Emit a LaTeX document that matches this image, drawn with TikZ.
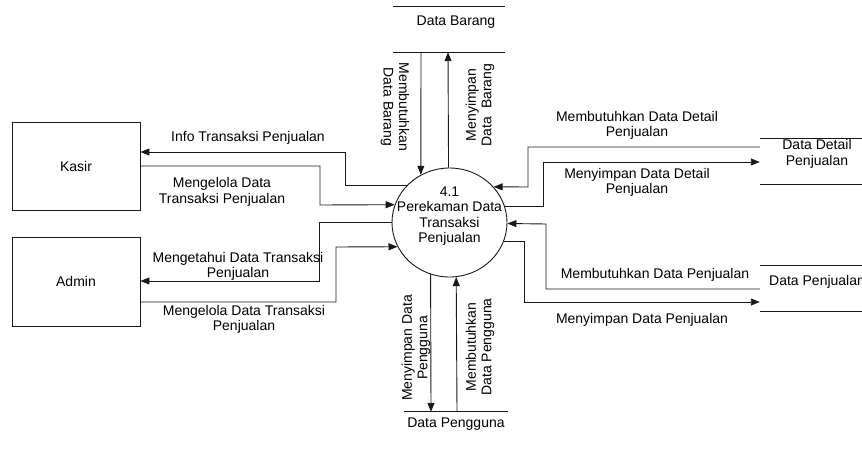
\documentclass[tikz,border=0pt]{standalone}
\usepackage{fontspec}
\setmainfont{Liberation Sans}
\usetikzlibrary{arrows.meta,shapes.geometric}
\begin{document}
\begin{tikzpicture}[x=1pt,y=-1pt,
  every node/.style={font=\fontsize{14}{15.5}\selectfont, text=black},
  flow/.style={draw=black!90, line width=0.9pt, -{Triangle[length=9pt,width=7pt]}},
  entity/.style={draw=black!90, line width=0.9pt, rectangle, minimum width=128pt, minimum height=88pt, inner sep=0pt},
  storebox/.style={rectangle, inner sep=0pt},
  storeline/.style={draw=black!90, line width=0.9pt},
  lbl/.style={align=center, inner sep=0pt}]
\useasboundingbox (0,0) rectangle (862,449);

% external entities
\node[entity] (kasir) at (76,166) {Kasir};
\node[entity, minimum height=89pt] (admin) at (76,281.5) {Admin};

% process
\node[draw=black!90, line width=0.9pt, ellipse, minimum width=115pt, minimum height=109pt, inner sep=0pt] (p) at (449.5,222.5) {};
\node[lbl] (ptext) at (449.5,216) {4.1\\Perekaman Data\\Transaksi\\Penjualan};

% data stores
\node[storebox, minimum width=112pt, minimum height=45pt] (db) at (449,29.5) {};
\draw[storeline] (db.north west) -- (db.north east);
\draw[storeline] (db.south west) -- (db.south east);
\node[lbl] (dbtext) at (456,22) {Data Barang};

\node[storebox, minimum width=112pt, minimum height=45pt] (ddp) at (816,161.5) {};
\draw[storeline] (ddp.north west) -- (ddp.north east);
\draw[storeline] (ddp.south west) -- (ddp.south east);
\node[lbl] (ddptext) at (817,154) {Data Detail\\Penjualan};

\node[storebox, minimum width=112pt, minimum height=45pt] (dp) at (816,288.5) {};
\draw[storeline] (dp.north west) -- (dp.north east);
\draw[storeline] (dp.south west) -- (dp.south east);
\node[lbl, anchor=west] (dptext) at (769,282) {Data Penjualan};

\node[storebox, minimum width=104pt, minimum height=30pt] (dpg) at (456,427) {};
\draw[storeline] (dpg.north west) -- (dpg.north east);
\node[lbl] (dpgtext) at (456,424) {Data Pengguna};

% flows with Kasir
\draw[flow] (p.139.5) -| (345,152) -- (kasir.east |- 0,152);
\draw[flow] (kasir.east) -| (320,205) -- (p.162.2);
\node[lbl] (l1) at (248,138) {Info Transaksi Penjualan};
\node[lbl] (l2) at (222,192) {Mengelola Data\\Transaksi Penjualan};

% flows with Admin
\draw[flow] (p.180.5) -| (319,281) -- (admin.east |- 0,281);
\draw[flow] (admin.east |- 0,302) -| (336,247) -- (p.205.5);
\node[lbl] (l3) at (238,266.5) {Mengetahui Data Transaksi\\Penjualan};
\node[lbl] (l4) at (244,319.5) {Mengelola Data Transaksi\\Penjualan};

% flows with Data Detail Penjualan
\draw[flow] (ddp.west |- 0,147) -| (528,187) -- (p.39.2);
\draw[flow] (p.16.8) -| (543,162) -- (ddp.west |- 0,162);
\node[lbl] (l5) at (637,125.5) {Membutuhkan Data Detail\\Penjualan};
\node[lbl] (l6) at (637,182.5) {Menyimpan Data Detail\\Penjualan};

% flows with Data Penjualan
\draw[flow] (dp.west |- 0,289) -| (546,224) -- (p.-1.5);
\draw[flow] (p.-19.96) -| (524,302) -- (dp.west |- 0,302);
\node[lbl] (l7) at (655,275) {Membutuhkan Data Penjualan};
\node[lbl] (l8) at (642,320) {Menyimpan Data Penjualan};

% flows with Data Barang
\draw[flow] (db.south -| 421,0) -- (p.121.1);
\draw[flow] (p.91.6) -- (db.south -| 448,0);
\node[lbl, rotate=-90] (l9) at (395,107) {Membutuhkan\\Data Barang};
\node[lbl, rotate=90] (l10) at (480,105) {Menyimpan\\Data\ \ Barang};

% flows with Data Pengguna
\draw[flow] (p.250.3) -- (dpg.north -| 431,0);
\draw[flow] (dpg.north -| 457,0) -- (p.277.9);
\node[lbl, rotate=90] (l11) at (416,348) {Menyimpan Data\\Pengguna};
\node[lbl, rotate=90] (l12) at (480,347) {Membutuhkan\\Data Pengguna};
\end{tikzpicture}
\end{document}
